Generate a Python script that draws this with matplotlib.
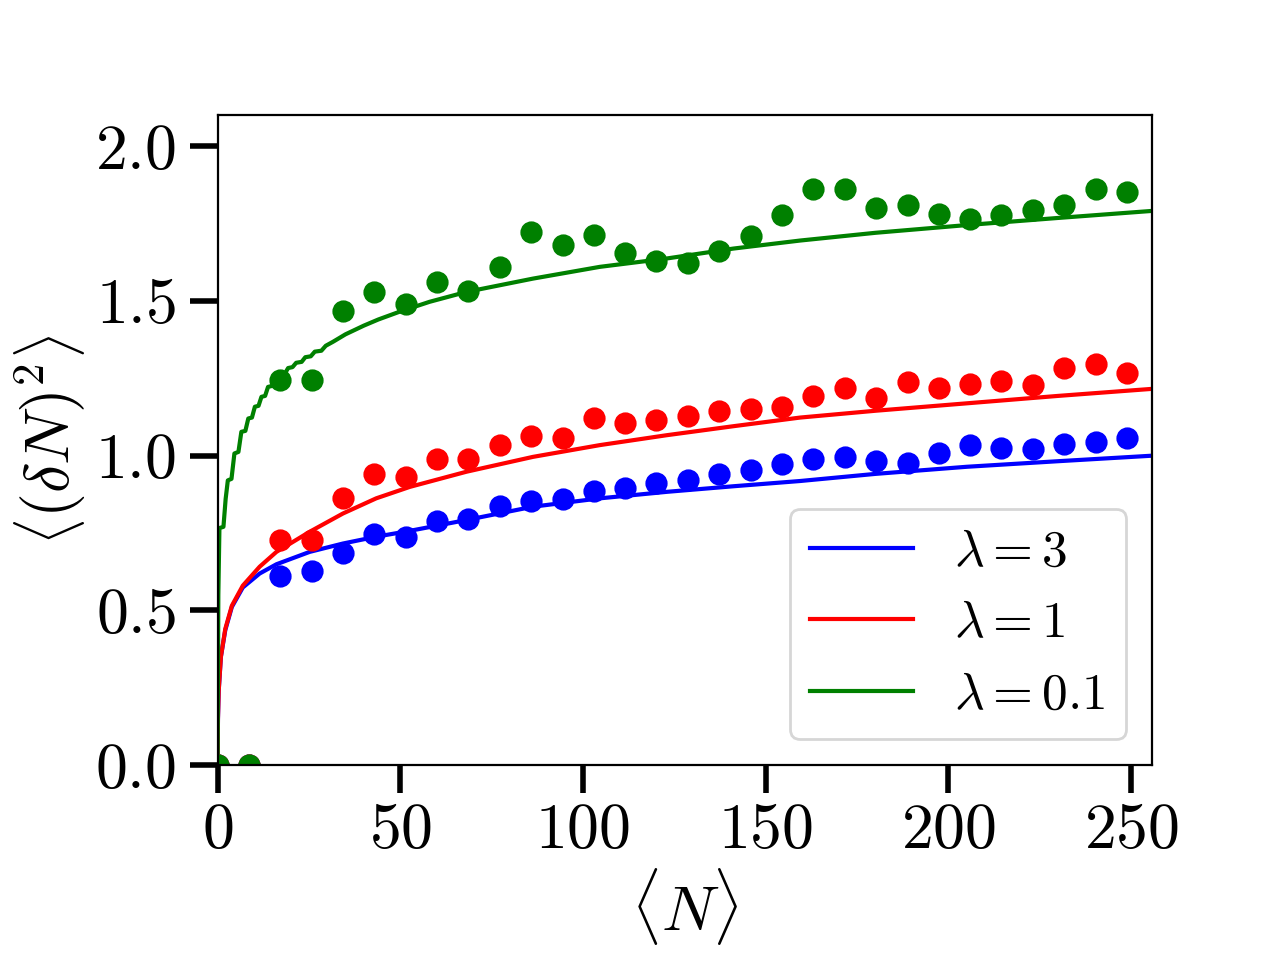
import matplotlib
matplotlib.use("Agg")
import matplotlib.pyplot as plt

plt.rcParams['mathtext.fontset'] = 'cm'
plt.rcParams['font.family'] = 'serif'
plt.rcParams['font.serif'] = ['cmr10']
plt.rcParams['axes.formatter.use_mathtext'] = True

# ---- data points (simulation) ----
N_data = [0.0, 8.6, 17.2, 25.7, 34.3, 42.9, 51.5, 60.0, 68.6, 77.2, 85.8, 94.4,
          103.0, 111.5, 120.1, 128.7, 137.3, 145.9, 154.5, 163.0, 171.6, 180.2,
          188.8, 197.4, 206.0, 214.5, 223.1, 231.7, 240.3, 248.9]
var_l3 = [0.0, 0.0, 0.611, 0.627, 0.684, 0.748, 0.736, 0.788, 0.794, 0.836, 0.853, 0.859,
          0.885, 0.896, 0.910, 0.922, 0.942, 0.953, 0.972, 0.989, 0.996, 0.982,
          0.977, 1.010, 1.034, 1.025, 1.023, 1.039, 1.045, 1.056]
var_l1 = [0.0, 0.0, 0.729, 0.727, 0.862, 0.942, 0.931, 0.988, 0.988, 1.034, 1.063, 1.056,
          1.123, 1.106, 1.115, 1.128, 1.145, 1.152, 1.158, 1.192, 1.217, 1.185,
          1.239, 1.220, 1.231, 1.241, 1.228, 1.282, 1.296, 1.266]
var_l01 = [0.0, 0.0, 1.244, 1.244, 1.467, 1.528, 1.490, 1.562, 1.532, 1.610, 1.723, 1.680,
           1.712, 1.656, 1.628, 1.624, 1.662, 1.709, 1.777, 1.863, 1.863, 1.799,
           1.811, 1.782, 1.766, 1.777, 1.793, 1.811, 1.863, 1.852]

# ---- theory curves ----
N_th_l3 = [0.0, 0.1, 0.3, 0.9, 2.1, 3.9, 6.9, 11.5, 16.1, 25.2, 34.3, 43.4, 52.6,
           68.1, 86.3, 104.6, 122.9, 141.1, 159.4, 180.0, 205.0, 230.0, 256.0]
y_th_l3 = [0.0, 0.15, 0.24, 0.35, 0.436, 0.511, 0.574, 0.619, 0.649, 0.689, 0.716, 0.738, 0.757,
           0.792, 0.835, 0.862, 0.883, 0.901, 0.918, 0.941, 0.964, 0.982, 1.000]
N_th_l1 = [0.0, 0.1, 0.3, 0.9, 2.1, 3.9, 6.9, 11.5, 16.1, 25.2, 34.3, 43.4, 52.6,
           68.1, 86.3, 104.6, 122.9, 141.1, 159.4, 180.0, 205.0, 230.0, 256.0]
y_th_l1 = [0.0, 0.15, 0.24, 0.35, 0.44, 0.515, 0.58, 0.641, 0.689, 0.754, 0.813, 0.862, 0.899,
           0.948, 0.996, 1.034, 1.066, 1.095, 1.123, 1.145, 1.169, 1.193, 1.216]
N_th_l01 = [0.0, 0.2, 0.5, 1.6, 2.2, 2.8, 3.8, 4.6, 5.7, 6.5, 7.6, 8.4, 9.4, 10.2,
            11.2, 12.0, 13.0, 13.8, 14.8, 15.6, 16.6, 17.4, 18.4, 19.3, 20.5, 21.5,
            23.0, 24.0, 25.5, 26.6, 28.4, 29.6, 31.6, 35.0, 40.0, 44.0, 49.8, 58.0,
            68.1, 86.3, 104.6, 122.9, 141.1, 159.4, 180.0, 205.0, 230.0, 256.0]
y_th_l01 = [0.0, 0.55, 0.766, 0.77, 0.86, 0.92, 0.925, 1.007, 1.012, 1.077, 1.08, 1.12, 1.123, 1.158,
            1.161, 1.19, 1.193, 1.222, 1.225, 1.243, 1.246, 1.262, 1.265, 1.283, 1.286, 1.300,
            1.303, 1.318, 1.321, 1.336, 1.339, 1.355, 1.368, 1.392, 1.420, 1.440, 1.465, 1.497,
            1.529, 1.572, 1.61, 1.637, 1.669, 1.695, 1.72, 1.745, 1.768, 1.791]

labels = [r'$\lambda = 3$', r'$\lambda = 1$', r'$\lambda = 0.1$']
colors = ['blue', 'red', 'green']

fig, ax = plt.subplots(figsize=(6.4, 4.8), dpi=200)
fig.subplots_adjust(left=0.17, right=0.9, bottom=0.203, top=0.88)

ax.plot(N_th_l3, y_th_l3, color=colors[0], lw=1.5, label=labels[0])
ax.plot(N_th_l1, y_th_l1, color=colors[1], lw=1.5, label=labels[1])
ax.plot(N_th_l01, y_th_l01, color=colors[2], lw=1.5, label=labels[2])

ax.plot(N_data, var_l3, 'o', color=colors[0], ms=7)
ax.plot(N_data, var_l1, 'o', color=colors[1], ms=7)
ax.plot(N_data, var_l01, 'o', color=colors[2], ms=7)

ax.set_xlim(0, 255.7)
ax.set_ylim(0, 2.1)
ax.set_xticks([0, 50, 100, 150, 200, 250])
ax.set_xticklabels([r'$0$', r'$50$', r'$100$', r'$150$', r'$200$', r'$250$'])
ax.set_yticks([0.0, 0.5, 1.0, 1.5, 2.0])
ax.set_yticklabels([r'$0.0$', r'$0.5$', r'$1.0$', r'$1.5$', r'$2.0$'])
ax.tick_params(axis='both', which='major', labelsize=23, length=10, width=2)
ax.tick_params(axis='y', pad=5)

ax.set_xlabel(r'$\langle N\rangle$', fontsize=23, labelpad=2)
ax.set_ylabel(r'$\left\langle(\delta N)^2\right\rangle$', fontsize=23, labelpad=3)

ax.legend(loc='lower right', fontsize=18.5)

fig.savefig('out.png', dpi=200)
